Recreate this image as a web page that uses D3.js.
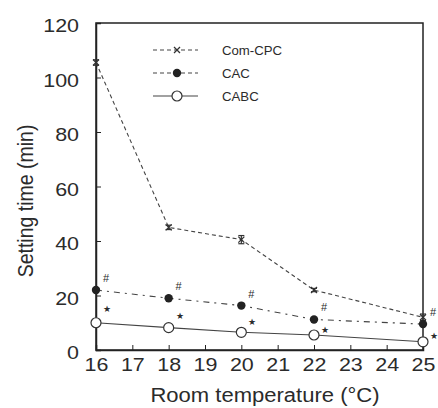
<!DOCTYPE html>
<html>
<head>
<meta charset="utf-8">
<script src="https://cdn.jsdelivr.net/npm/d3@7"></script>
<style>
  body { margin: 0; background: #fff; }
  text { font-family: "Liberation Sans", Arial, sans-serif; fill: #2b2b2b; }
</style>
</head>
<body>
<div id="chart"></div>
<script>
// data
const temps = [16, 18, 20, 22, 25];
const comCpc = [105.5, 45, 40.5, 22, 12];
const comCpcErr = [1, 0.8, 1.5, 0.6, 1.2];
const cac = [22, 19, 16.3, 11.2, 9.5];
const cabc = [10, 8.2, 6.5, 5.5, 3];
const xTicks = [16, 17, 18, 19, 20, 21, 22, 23, 24, 25];
const yTicks = [0, 20, 40, 60, 80, 100, 120];

const width = 438, height = 408;
const margin = { top: 23, right: 15, bottom: 58, left: 96 };
const sx = 1.13; // the original text is a little stretched sideways

const svg = d3.select("#chart").append("svg")
  .attr("width", width)
  .attr("height", height);

const x = d3.scaleLinear().domain([16, 25]).range([margin.left, width - margin.right]);
const y = d3.scaleLinear().domain([0, 120]).range([height - margin.bottom, margin.top]);

// frame
svg.append("rect")
  .attr("x", x(16)).attr("y", y(120))
  .attr("width", x(25) - x(16)).attr("height", y(0) - y(120))
  .attr("fill", "none").attr("stroke", "#222").attr("stroke-width", 1.5);

// axes with inward ticks
const xAxis = svg.append("g")
  .attr("transform", `translate(0,${y(0)})`)
  .call(d3.axisBottom(x).tickValues(xTicks).tickSize(-5).tickPadding(8).tickFormat(d3.format("d")));
xAxis.select(".domain").attr("stroke", "#222").attr("stroke-width", 1.5);
xAxis.selectAll("line").attr("stroke", "#222");
xAxis.selectAll("text").style("font-size", "19px")
  .attr("transform", `scale(${sx},1)`);

const yAxis = svg.append("g")
  .attr("transform", `translate(${x(16)},0)`)
  .call(d3.axisLeft(y).tickValues(yTicks).tickSize(-5));
yAxis.select(".domain").attr("stroke", "#222").attr("stroke-width", 1.5);
yAxis.selectAll("line").attr("stroke", "#222");
yAxis.selectAll("text").style("font-size", "19px")
  .attr("x", -17 / sx).attr("dy", "0.45em")
  .attr("transform", `scale(${sx},1)`);

// axis titles
svg.append("text")
  .attr("transform", `translate(265,402) scale(${sx},1)`)
  .attr("text-anchor", "middle")
  .style("font-size", "19.5px")
  .text("Room temperature (°C)");

svg.append("text")
  .attr("transform", `translate(33,201) rotate(-90) scale(1,${sx})`)
  .attr("text-anchor", "middle")
  .style("font-size", "19.5px")
  .text("Setting time (min)");

const line = d3.line().x(d => x(d[0])).y(d => y(d[1]));
const pts = arr => temps.map((t, i) => [t, arr[i]]);

// lines
svg.append("path").datum(pts(cabc)).attr("d", line)
  .attr("fill", "none").attr("stroke", "#444").attr("stroke-width", 1.1);
svg.append("path").datum(pts(cac)).attr("d", line)
  .attr("fill", "none").attr("stroke", "#444").attr("stroke-width", 1.1)
  .attr("stroke-dasharray", "6,5,2,5");
svg.append("path").datum(pts(comCpc)).attr("d", line)
  .attr("fill", "none").attr("stroke", "#444").attr("stroke-width", 1.1)
  .attr("stroke-dasharray", "4,3");

// Com-CPC error bars
const eb = svg.append("g").attr("stroke", "#333").attr("stroke-width", 1.2);
temps.forEach((t, i) => {
  const cx = x(t), lo = y(comCpc[i] - comCpcErr[i]), hi = y(comCpc[i] + comCpcErr[i]);
  eb.append("line").attr("x1", cx).attr("x2", cx).attr("y1", lo).attr("y2", hi);
  eb.append("line").attr("x1", cx - 3).attr("x2", cx + 3).attr("y1", lo).attr("y2", lo);
  eb.append("line").attr("x1", cx - 3).attr("x2", cx + 3).attr("y1", hi).attr("y2", hi);
});

// markers
function crossMarker(g, cx, cy) {
  g.append("path")
    .attr("d", `M${cx - 3},${cy - 3}L${cx + 3},${cy + 3}M${cx - 3},${cy + 3}L${cx + 3},${cy - 3}`)
    .attr("stroke", "#333").attr("stroke-width", 1.3).attr("fill", "none");
}
const mk = svg.append("g");
pts(comCpc).forEach(d => crossMarker(mk, x(d[0]), y(d[1])));
mk.selectAll(".cac").data(pts(cac)).join("circle")
  .attr("cx", d => x(d[0])).attr("cy", d => y(d[1])).attr("r", 4.2)
  .attr("fill", "#222");
mk.selectAll(".cabc").data(pts(cabc)).join("circle")
  .attr("cx", d => x(d[0])).attr("cy", d => y(d[1])).attr("r", 5)
  .attr("fill", "#fff").attr("stroke", "#333").attr("stroke-width", 1.2);

// significance marks
const ann = svg.append("g");
temps.forEach((t, i) => {
  ann.append("text")
    .attr("x", x(t) + 10).attr("y", y(cac[i]) - 8)
    .attr("text-anchor", "middle")
    .style("font-size", "11px")
    .text("#");
  ann.append("text")
    .attr("x", x(t) + 11).attr("y", (y(cac[i]) + y(cabc[i])) / 2 + 6)
    .attr("text-anchor", "middle")
    .style("font-size", "9px")
    .text("★");
});

// legend
const legendItems = [
  { name: "Com-CPC", dash: "4,3", type: "cross" },
  { name: "CAC", dash: "4,3", type: "filled" },
  { name: "CABC", dash: null, type: "open" }
];
const lg = svg.append("g");
legendItems.forEach((d, i) => {
  const ly = 50 + i * 23;
  lg.append("line").attr("x1", 153).attr("x2", 198).attr("y1", ly).attr("y2", ly)
    .attr("stroke", "#444").attr("stroke-width", 1.1)
    .attr("stroke-dasharray", d.dash);
  if (d.type === "cross") crossMarker(lg, 177, ly);
  else if (d.type === "filled") lg.append("circle").attr("cx", 177).attr("cy", ly).attr("r", 4.2).attr("fill", "#222");
  else lg.append("circle").attr("cx", 177).attr("cy", ly).attr("r", 5).attr("fill", "#fff").attr("stroke", "#333").attr("stroke-width", 1.2);
  lg.append("text").attr("transform", `translate(222,${ly + 4.5}) scale(1.1,1)`)
    .style("font-size", "12px").text(d.name);
});
</script>
</body>
</html>
